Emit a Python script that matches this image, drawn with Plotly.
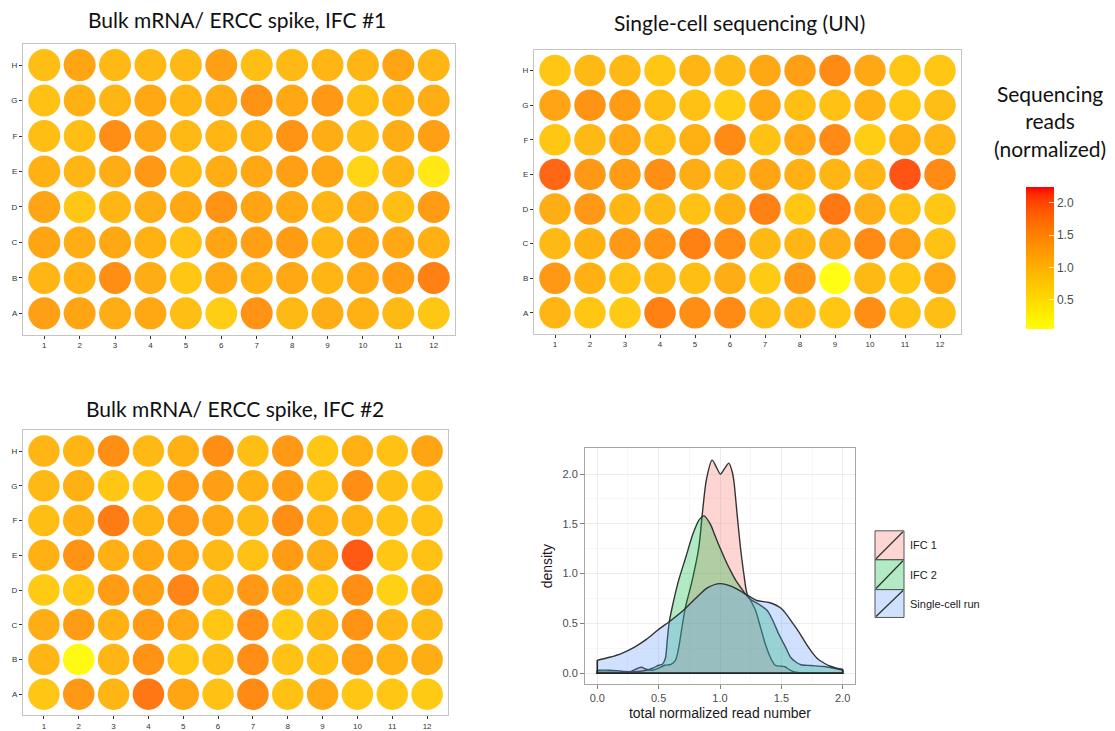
import plotly.graph_objects as go

W, H = 1115, 731

# ---------------- plate data (rows listed top to bottom: H .. A) ----------------
row_labels = ["A", "B", "C", "D", "E", "F", "G", "H"]
col_labels = [str(c) for c in range(1, 13)]

ifc1_plate = [
    [0.90, 1.20, 0.95, 0.95, 0.95, 1.25, 0.90, 0.95, 1.00, 1.00, 1.20, 1.00],  # H
    [0.85, 1.05, 1.00, 1.15, 1.00, 1.10, 1.40, 1.15, 1.35, 0.90, 1.05, 1.10],  # G
    [0.90, 0.90, 1.45, 1.20, 0.95, 1.00, 1.05, 1.40, 1.10, 0.90, 1.10, 1.25],  # F
    [1.05, 1.00, 1.10, 1.35, 0.95, 1.10, 1.15, 1.25, 1.20, 0.60, 1.00, 0.35],  # E
    [1.20, 0.80, 1.00, 1.10, 1.15, 1.40, 1.20, 1.15, 1.00, 1.10, 0.90, 1.30],  # D
    [1.20, 1.10, 1.15, 1.05, 0.85, 1.20, 1.25, 1.30, 1.00, 1.20, 1.15, 1.05],  # C
    [1.00, 1.05, 1.45, 1.10, 0.80, 1.15, 1.05, 1.15, 1.00, 1.15, 1.30, 1.60],  # B
    [1.25, 1.20, 1.10, 1.15, 0.90, 0.70, 1.40, 0.95, 1.10, 1.05, 0.95, 0.80],  # A
]

single_cell_plate = [
    [0.80, 0.95, 0.95, 0.80, 1.00, 0.95, 1.15, 1.25, 1.50, 1.15, 0.80, 0.80],  # H
    [1.20, 1.40, 1.30, 0.90, 0.85, 0.70, 1.15, 0.90, 0.85, 1.05, 0.80, 0.90],  # G
    [0.80, 0.95, 1.15, 0.90, 1.05, 1.50, 0.85, 1.15, 1.50, 0.70, 1.05, 1.00],  # F
    [1.85, 1.35, 1.30, 1.45, 1.10, 0.95, 1.20, 1.05, 1.00, 1.00, 2.00, 1.50],  # E
    [1.10, 1.35, 1.00, 0.95, 0.85, 1.05, 1.60, 0.80, 1.70, 1.10, 0.85, 0.80],  # D
    [0.95, 1.05, 1.35, 1.40, 1.60, 1.45, 0.95, 1.00, 1.10, 1.50, 1.25, 0.85],  # C
    [1.35, 1.05, 0.85, 0.95, 0.90, 1.10, 0.75, 1.35, 0.08, 0.95, 0.80, 1.15],  # B
    [1.00, 0.80, 0.75, 1.60, 1.45, 1.50, 0.90, 1.00, 0.80, 1.45, 0.85, 0.90],  # A
]

ifc2_plate = [
    [1.00, 1.00, 1.45, 0.95, 1.05, 1.45, 0.90, 1.35, 0.80, 1.05, 0.85, 1.20],  # H
    [0.95, 1.05, 0.80, 0.80, 1.30, 1.25, 1.05, 1.30, 0.85, 1.45, 0.90, 0.85],  # G
    [0.90, 1.05, 1.65, 1.00, 1.35, 1.15, 0.95, 1.45, 1.05, 1.05, 0.85, 0.85],  # F
    [1.05, 1.40, 1.05, 1.15, 1.20, 0.95, 0.85, 1.30, 1.10, 1.95, 0.80, 0.85],  # E
    [0.75, 0.80, 1.30, 1.25, 1.55, 1.00, 1.35, 1.15, 0.80, 1.45, 0.65, 1.05],  # D
    [1.10, 1.30, 1.05, 1.30, 1.15, 0.80, 1.45, 0.75, 0.95, 1.40, 1.00, 0.95],  # C
    [1.00, 0.12, 1.00, 1.40, 0.80, 0.90, 1.45, 0.85, 0.90, 1.25, 1.05, 1.10],  # B
    [0.80, 1.35, 1.00, 1.70, 1.20, 0.85, 1.50, 0.85, 1.15, 0.80, 0.80, 0.75],  # A
]

color_min, color_max = 0.05, 2.25
colorbar_ticks = [0.5, 1.0, 1.5, 2.0]

# ---------------- density curves ----------------
ifc1_x = [0.0, 0.1, 0.2, 0.28, 0.33, 0.36, 0.4, 0.45, 0.5, 0.55, 0.6, 0.637, 0.664,
          0.69, 0.718, 0.773, 0.827, 0.855, 0.89, 0.936, 0.97, 1.004, 1.04, 1.072,
          1.10, 1.113, 1.14, 1.167, 1.195, 1.22, 1.25, 1.29, 1.33, 1.37, 1.41, 1.45,
          1.5, 1.53, 1.56, 1.6, 1.65, 1.8, 2.0]
ifc1_y = [0.01, 0.01, 0.005, 0.02, 0.05, 0.06, 0.04, 0.03, 0.05, 0.08, 0.09, 0.13, 0.26,
          0.46, 0.66, 0.93, 1.26, 1.59, 1.95, 2.14, 2.07, 2.0, 2.06, 2.11,
          2.02, 1.93, 1.59, 1.26, 0.99, 0.80, 0.73, 0.63, 0.46, 0.29, 0.16, 0.08,
          0.07, 0.065, 0.04, 0.015, 0.005, 0.0, 0.0]

ifc2_x = [0.0, 0.1, 0.2, 0.3, 0.4, 0.45, 0.5, 0.53, 0.555, 0.57, 0.585, 0.61, 0.66,
          0.72, 0.78, 0.83, 0.87, 0.92, 0.96, 1.0, 1.05, 1.09, 1.13, 1.17, 1.21,
          1.25, 1.32, 1.385, 1.43, 1.48, 1.535, 1.575, 1.62, 1.66, 1.74, 1.85, 1.93, 2.0]
ifc2_y = [0.03, 0.03, 0.02, 0.015, 0.03, 0.05, 0.08, 0.09, 0.15, 0.33, 0.50, 0.66, 0.92,
          1.16, 1.40, 1.54, 1.58, 1.50, 1.38, 1.26, 1.12, 1.02, 0.93, 0.86, 0.79,
          0.74, 0.69, 0.63, 0.53, 0.39, 0.26, 0.16, 0.11, 0.085, 0.077, 0.067, 0.05, 0.03]

single_x = [0.0, 0.1, 0.2, 0.3, 0.4, 0.5, 0.6, 0.7, 0.8, 0.9, 1.0, 1.1, 1.2, 1.3, 1.4,
            1.5, 1.6, 1.65, 1.7, 1.75, 1.8, 1.85, 1.9, 1.95, 2.0]
single_y = [0.13, 0.16, 0.20, 0.26, 0.34, 0.44, 0.53, 0.63, 0.75, 0.86, 0.90, 0.87, 0.80,
            0.73, 0.71, 0.65, 0.49, 0.40, 0.30, 0.21, 0.14, 0.10, 0.07, 0.05, 0.04]

density_series = [
    ("IFC 1", ifc1_x, ifc1_y, "rgba(248,118,109,0.3)"),
    ("IFC 2", ifc2_x, ifc2_y, "rgba(0,186,56,0.3)"),
    ("Single-cell run", single_x, single_y, "rgba(97,156,255,0.3)"),
]


# ---------------- yellow -> red gradient interpolated in CIE Lab ----------------
def _hex_to_rgb(h):
    h = h.lstrip("#")
    return [int(h[i:i + 2], 16) / 255 for i in (0, 2, 4)]


def _to_lab(h):
    lin = [c / 12.92 if c <= 0.04045 else ((c + 0.055) / 1.055) ** 2.4 for c in _hex_to_rgb(h)]
    r, g, b = lin
    X = (0.4124564 * r + 0.3575761 * g + 0.1804375 * b) / 0.95047
    Y = 0.2126729 * r + 0.7151522 * g + 0.0721750 * b
    Z = (0.0193339 * r + 0.1191920 * g + 0.9503041 * b) / 1.08883
    f = lambda t: t ** (1 / 3) if t > (6 / 29) ** 3 else t / (3 * (6 / 29) ** 2) + 4 / 29
    fx, fy, fz = f(X), f(Y), f(Z)
    return 116 * fy - 16, 500 * (fx - fy), 200 * (fy - fz)


def _from_lab(L, a, b):
    fy = (L + 16) / 116
    fx, fz = fy + a / 500, fy - b / 200
    finv = lambda t: t ** 3 if t > 6 / 29 else 3 * (6 / 29) ** 2 * (t - 4 / 29)
    X, Y, Z = finv(fx) * 0.95047, finv(fy), finv(fz) * 1.08883
    r = 3.2404542 * X - 1.5371385 * Y - 0.4985314 * Z
    g = -0.9692660 * X + 1.8760108 * Y + 0.0415560 * Z
    bb = 0.0556434 * X - 0.2040259 * Y + 1.0572252 * Z
    out = []
    for c in (r, g, bb):
        c = 12.92 * c if c <= 0.0031308 else 1.055 * c ** (1 / 2.4) - 0.055
        out.append(int(round(min(max(c, 0), 1) * 255)))
    return "rgb({},{},{})".format(*out)


low_lab, high_lab = _to_lab("#FFFF00"), _to_lab("#FF0000")
n_stops = 16
plate_colorscale = []
for i in range(n_stops + 1):
    t = i / n_stops
    lab = [lo + (hi - lo) * t for lo, hi in zip(low_lab, high_lab)]
    plate_colorscale.append([t, _from_lab(*lab)])


def px_x(p):
    return p / W


def px_y(p):
    return 1 - p / H


fig = go.Figure()

# ---------------- plate panels ----------------
plates = [
    ("x", "y", ifc1_plate, (23, 455), (44, 336), 32),
    ("x2", "y2", single_cell_plate, (534, 961), (50, 335), 31.5),
    ("x3", "y3", ifc2_plate, (23, 448), (432, 718), 31.5),
]

for xa, ya, plate, (x0, x1), (y0, y1), dia in plates:
    xs, ys, vs = [], [], []
    for r_idx, row in enumerate(plate):
        for c_idx, v in enumerate(row):
            xs.append(c_idx + 1)
            ys.append(8 - r_idx)
            vs.append(v)
    fig.add_trace(go.Scatter(
        x=xs, y=ys, mode="markers", xaxis=xa, yaxis=ya, showlegend=False,
        marker=dict(size=dia, color=vs, coloraxis="coloraxis", opacity=0.92,
                    line=dict(width=0)),
        hoverinfo="skip",
    ))
    suffix = xa[1:]
    axis_common = dict(showgrid=False, zeroline=False, showline=True, mirror=True,
                       linecolor="#C4C4C4", linewidth=1, ticks="outside", ticklen=3,
                       tickcolor="#333333", tickwidth=1,
                       tickfont=dict(family="Liberation Sans, Arial", size=8, color="#333333"))
    fig.layout["xaxis" + suffix] = dict(
        domain=[px_x(x0), px_x(x1)], anchor=ya, range=[0.4, 12.6],
        tickmode="array", tickvals=list(range(1, 13)), ticktext=col_labels, **axis_common)
    fig.layout["yaxis" + suffix] = dict(
        domain=[px_y(y1), px_y(y0)], anchor=xa, range=[0.4, 8.6],
        tickmode="array", tickvals=list(range(1, 9)), ticktext=row_labels, **axis_common)

# ---------------- density panel ----------------
for name, dx, dy, fill in density_series:
    fig.add_trace(go.Scatter(
        x=dx, y=dy, mode="lines", xaxis="x4", yaxis="y4", showlegend=False,
        fill="tozeroy", fillcolor=fill, name=name,
        line=dict(color="#333333", width=1.4, shape="spline", smoothing=0.8),
        hoverinfo="skip",
    ))
    fig.add_trace(go.Scatter(
        x=[dx[0], dx[0], dx[-1], dx[-1]], y=[dy[0], 0, 0, dy[-1]],
        mode="lines", xaxis="x4", yaxis="y4", showlegend=False,
        line=dict(color="#222222", width=1.6), hoverinfo="skip",
    ))

dens_font = dict(family="Liberation Sans, Arial", size=11, color="#4D4D4D")
fig.layout.xaxis4 = dict(
    domain=[px_x(585), px_x(855)], anchor="y4", range=[-0.1, 2.1],
    tickmode="array", tickvals=[0, 0.5, 1.0, 1.5, 2.0],
    ticktext=["0.0", "0.5", "1.0", "1.5", "2.0"],
    showgrid=True, gridcolor="#EDEDED", gridwidth=1,
    minor=dict(tickmode="array", tickvals=[0.25, 0.75, 1.25, 1.75], showgrid=True,
               gridcolor="#F7F7F7", ticks=""),
    zeroline=False, showline=True, mirror=True, linecolor="#A6A6A6", linewidth=1,
    ticks="outside", ticklen=4, tickcolor="#7F7F7F", tickfont=dens_font,
    title=dict(text="total normalized read number", standoff=4,
               font=dict(family="Liberation Sans, Arial", size=14, color="#1A1A1A")),
)
fig.layout.yaxis4 = dict(
    domain=[px_y(687), px_y(450)], anchor="x4", range=[-0.11, 2.26],
    tickmode="array", tickvals=[0, 0.5, 1.0, 1.5, 2.0],
    ticktext=["0.0", "0.5", "1.0", "1.5", "2.0"],
    showgrid=True, gridcolor="#EDEDED", gridwidth=1,
    minor=dict(tickmode="array", tickvals=[0.25, 0.75, 1.25, 1.75], showgrid=True,
               gridcolor="#F7F7F7", ticks=""),
    zeroline=False, showline=True, mirror=True, linecolor="#A6A6A6", linewidth=1,
    ticks="outside", ticklen=4, tickcolor="#7F7F7F", tickfont=dens_font,
    title=dict(text="density", standoff=6,
               font=dict(family="Liberation Sans, Arial", size=14, color="#1A1A1A")),
)

# ---------------- shared colour axis ----------------
fig.layout.coloraxis = dict(
    colorscale=plate_colorscale, cmin=color_min, cmax=color_max,
    colorbar=dict(
        x=px_x(1026), xanchor="left", y=px_y(330), yanchor="bottom",
        len=143 / H, lenmode="fraction", thickness=28, thicknessmode="pixels",
        xpad=0, ypad=0, outlinewidth=0,
        tickmode="array", tickvals=colorbar_ticks,
        ticktext=["{:.1f}".format(t) for t in colorbar_ticks],
        ticks="inside", ticklen=5, tickcolor="rgba(255,255,255,0.8)",
        tickfont=dict(family="Liberation Sans, Arial", size=12, color="#4D4D4D"),
    ),
)

# ---------------- titles ----------------
title_font = dict(family="Lato", size=21, color="#111111")
annotations = [
    dict(text="Bulk mRNA/ ERCC spike, IFC #1", x=px_x(237), y=px_y(20)),
    dict(text="Single-cell sequencing (UN)", x=px_x(739), y=px_y(23)),
    dict(text="Bulk mRNA/ ERCC spike, IFC #2", x=px_x(235), y=px_y(410)),
    dict(text="Sequencing<br>reads<br>(normalized)", x=px_x(1050), y=px_y(122)),
]
for a in annotations:
    fig.add_annotation(xref="paper", yref="paper", showarrow=False,
                       xanchor="center", yanchor="middle", font=title_font, **a)

# ---------------- density legend ----------------
legend_rows = [(533, 562), (562, 592), (592, 620)]
for (name, _, _, fill), (top, bottom) in zip(density_series, legend_rows):
    fig.add_shape(type="rect", xref="paper", yref="paper",
                  x0=px_x(875), x1=px_x(904), y0=px_y(bottom), y1=px_y(top),
                  fillcolor=fill, line=dict(color="#555555", width=1))
    fig.add_shape(type="line", xref="paper", yref="paper",
                  x0=px_x(876), x1=px_x(903), y0=px_y(bottom - 1), y1=px_y(top + 1),
                  line=dict(color="#333333", width=1.3))
    fig.add_annotation(xref="paper", yref="paper", showarrow=False,
                       x=px_x(908), y=px_y((top + bottom) / 2),
                       xanchor="left", yanchor="middle", text=name,
                       font=dict(family="Liberation Sans, Arial", size=11, color="#1A1A1A"))

fig.update_layout(
    width=W, height=H, margin=dict(l=0, r=0, t=0, b=0),
    paper_bgcolor="white", plot_bgcolor="white",
)

fig.write_html("out.html")
